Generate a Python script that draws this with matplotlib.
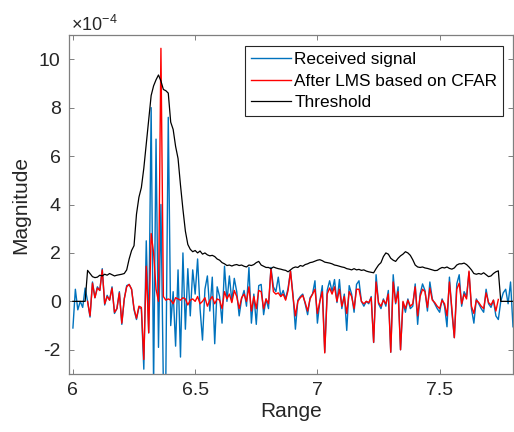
import numpy as np
import matplotlib
matplotlib.use("Agg")
import matplotlib.pyplot as plt

plt.rcParams['font.family'] = ['Liberation Sans', 'DejaVu Sans']
plt.rcParams['mathtext.fontset'] = 'custom'
plt.rcParams['mathtext.rm'] = 'Liberation Sans'
plt.rcParams['mathtext.it'] = 'Liberation Sans:italic'

# Range axis (0.01 step from 6.00 to 7.80)
range_vals = np.linspace(6.0, 7.8, 181)

# Values are in units of 1e-4
received = [
    -1.1, 0.5, -0.35, 0.0, -0.25, 0.55, 0.0, -0.65, 0.8, 0.15,
    0.6, 0.45, 1.35, -0.15, 0.25, 0.05, 0.6, -0.5, -0.3, 0.4,
    -0.95, 0.1, 0.65, 0.7, 0.5, -0.35, -0.75, -0.25, -0.3, -2.8,
    2.5, -1.3, 8.0, -3.5, 6.7, -1.9, 4.0, -3.5, -3.2, 7.6,
    -1.0, 0.4, -1.85, 1.3, -2.3, 2.0, -1.15, 1.35, -0.6, 1.3,
    0.3, 1.75, -0.3, -1.6, 0.5, 1.05, -0.4, 1.0, -1.75, 0.6,
    0.2, -0.9, 1.45, 0.0, 1.05, 0.0, 0.95, 0.4, -0.6, 0.1,
    0.45, -0.2, 1.4, -0.9, 0.3, -0.95, 0.65, 0.7, -0.55, 0.1,
    -0.3, 1.4, 0.6, 0.4, 1.0, 0.2, 0.45, 0.1, 0.55, 1.25,
    0.3, -1.15, 0.05, 0.2, 0.3, -0.1, -0.55, 0.15, 0.3, 0.85,
    -0.9, 0.0, 0.65, -2.1, 0.45, 0.85, 0.4, 0.9, -0.05, 0.9,
    -0.3, 0.3, -1.2, 0.65, 0.3, -0.45, 0.7, 0.85, 0.0, -0.2,
    0.0, -0.1, 0.2, -1.7, 1.1, -0.1, -0.3, 0.1, -0.2, 0.45,
    -2.1, 1.1, -0.1, 0.6, -2.0, -0.05, -0.45, 0.1, -0.3, -0.2,
    0.72, -0.95, 0.3, 0.72, 0.45, -0.4, 0.8, 0.1, -0.1, -0.3,
    -0.45, 0.1, -0.2, -1.05, 1.0, -0.45, -1.5, 0.72, 1.1, -0.2,
    0.4, 0.2, 1.2, -0.3, -0.9, 0.1, -0.1, -0.3, -0.45, 0.5,
    -0.1, -0.25, 0.05, -0.6, -0.75, 0.0, 0.35, 0.5, -0.1, 0.8,
    -1.05,
]

nan = np.nan
after_lms = [
    nan, nan, nan, nan, nan, nan, 0.0, -0.6, 0.75, 0.15,
    0.55, 0.45, 1.3, -0.1, 0.2, 0.05, 0.55, -0.45, -0.3, 0.35,
    -0.9, 0.1, 0.6, 0.7, 0.5, -0.3, -0.7, -0.2, -0.25, -2.4,
    1.45, -1.3, 2.8, 2.0, 0.5, 0.0, 10.45, 0.2, 0.05, 0.1,
    0.05, -0.1, 0.15, 0.1, 0.05, 0.15, 0.1, -0.15, 0.05, 0.1,
    0.0, 0.2, -0.1, 0.0, 0.15, -0.2, 0.05, 0.2, -0.1, 0.1,
    0.05, -0.3, 0.4, 0.1, 0.3, -0.05, 0.45, 0.2, -0.3, 0.15,
    0.3, 0.0, 0.6, -0.4, 0.2, -0.3, 0.45, 0.4, -0.3, 0.1,
    -0.1, 1.33, 0.4, 0.3, 0.35, 0.2, 0.3, 0.05, 0.45, 1.25,
    0.2, -0.6, 0.0, 0.15, 0.25, -0.05, -0.4, 0.1, 0.3, 0.5,
    -0.5, 0.0, 0.4, -2.13, 0.3, 0.55, 0.3, 0.6, 0.0, 0.5,
    -0.2, 0.2, -0.5, 0.4, 0.2, -0.3, 0.5, 0.5, 0.0, -0.1,
    0.0, -0.05, 0.15, -1.69, 0.8, -0.05, -0.2, 0.05, -0.1, 0.3,
    -2.1, 0.8, -0.05, 0.4, -2.0, 0.0, -0.3, 0.05, -0.2, -0.1,
    0.6, -0.6, 0.2, 0.5, 0.4, -0.25, 0.55, 0.05, -0.05, -0.2,
    -0.3, 0.05, -0.1, -0.6, 0.8, -0.3, -1.5, 0.5, 0.75, -0.1,
    0.3, 0.1, 1.25, -0.2, -0.5, 0.05, -0.05, -0.2, -0.3, 0.35,
    -0.05, -0.15, 0.05, -0.4, 0.08, nan, nan, nan, nan, nan,
    nan,
]

threshold = [
    0, 0, 0, 0, 0, 0, 1.28, 1.15, 1.02, 0.98,
    1.0, 1.08, 1.05, 1.12, 1.08, 1.15, 1.1, 1.05, 1.08, 1.1,
    1.12, 1.15, 1.3, 1.75, 2.1, 2.3, 3.6, 4.3, 4.7, 5.5,
    6.5, 7.5, 8.5, 8.9, 9.15, 9.35, 9.1, 8.75, 8.7, 8.6,
    7.4, 7.1, 6.4, 5.9, 4.8, 3.8, 2.9, 2.35, 2.15, 2.05,
    2.1, 2.0, 2.08, 1.95, 2.0, 1.92, 1.88, 1.9, 1.85, 1.75,
    1.7, 1.6, 1.55, 1.48, 1.5, 1.46, 1.5, 1.52, 1.48, 1.5,
    1.45, 1.42, 1.5, 1.48, 1.52, 1.6, 1.65, 1.5, 1.45, 1.4,
    1.4, 1.35, 1.42, 1.38, 1.35, 1.33, 1.3, 1.28, 1.22, 1.3,
    1.38, 1.42, 1.4, 1.48, 1.45, 1.52, 1.55, 1.6, 1.62, 1.66,
    1.7, 1.72, 1.68, 1.62, 1.6, 1.58, 1.55, 1.5, 1.48, 1.45,
    1.42, 1.4, 1.35, 1.33, 1.3, 1.35, 1.3, 1.32, 1.28, 1.3,
    1.25, 1.22, 1.2, 1.18, 1.35, 1.5, 1.6, 1.85, 2.0, 1.95,
    1.78, 1.7, 1.65, 1.78, 1.88, 1.95, 2.05, 2.0, 1.9, 1.72,
    1.5, 1.42, 1.4, 1.42, 1.38, 1.36, 1.33, 1.3, 1.27, 1.28,
    1.35, 1.4, 1.38, 1.42, 1.36, 1.33, 1.38, 1.5, 1.55, 1.55,
    1.58, 1.52, 1.42, 1.3, 1.15, 1.12, 1.15, 1.12, 1.18, 1.1,
    1.02, 1.05, 1.15, 1.22, 1.26, 0, 0, 0, 0, 0,
    0,
]

series_labels = ["Received signal", "After LMS based on CFAR", "Threshold"]
series_colors = ["#0072BD", "#FF0000", "#000000"]
x_ticks = [6, 6.5, 7, 7.5]
y_ticks = [-2, 0, 2, 4, 6, 8, 10]

fig = plt.figure(figsize=(5.14, 4.32), dpi=100)
ax = fig.add_axes([69/514, 1-374/432, (513-69)/514, (374-35)/432])

ax.plot(range_vals, received, color=series_colors[0], lw=1.0, label=series_labels[0])
ax.plot(range_vals, after_lms, color=series_colors[1], lw=1.0, label=series_labels[1])
ax.plot(range_vals, threshold, color=series_colors[2], lw=0.9, label=series_labels[2])

ax.set_xlim(5.984, 7.8)
ax.set_ylim(-3, 11)
ax.set_xticks(x_ticks)
ax.set_xticklabels(["6", "6.5", "7", "7.5"])
ax.set_yticks(y_ticks)
ax.set_yticklabels([str(t) for t in y_ticks])

axis_col = "#262626"
for s in ax.spines.values():
    s.set_color("#7f7f7f")
    s.set_linewidth(0.9)
ax.tick_params(direction='in', length=3.5, width=0.7, colors=axis_col,
               labelsize=14, top=True, right=True, pad=6)
ax.tick_params(axis='x', colors="#7f7f7f", labelcolor=axis_col)
ax.tick_params(axis='y', colors="#7f7f7f", labelcolor=axis_col)

ax.set_xlabel("Range", fontsize=15, color=axis_col, labelpad=2)
ax.set_ylabel("Magnitude", fontsize=15, color=axis_col, labelpad=6)

ax.text(0.004, 1.012, r"$\mathregular{\times10^{-4}}$", transform=ax.transAxes,
        fontsize=13, color=axis_col, ha='left', va='baseline')

leg = ax.legend(loc='upper right', bbox_to_anchor=(0.978, 0.9676), borderaxespad=0,
                fontsize=12.4, frameon=True, fancybox=False, framealpha=1,
                edgecolor='#262626', handlelength=2.3, handletextpad=0.2,
                labelspacing=0.38, borderpad=0.35)
leg.get_frame().set_linewidth(0.8)

fig.savefig("out.png", dpi=100)
